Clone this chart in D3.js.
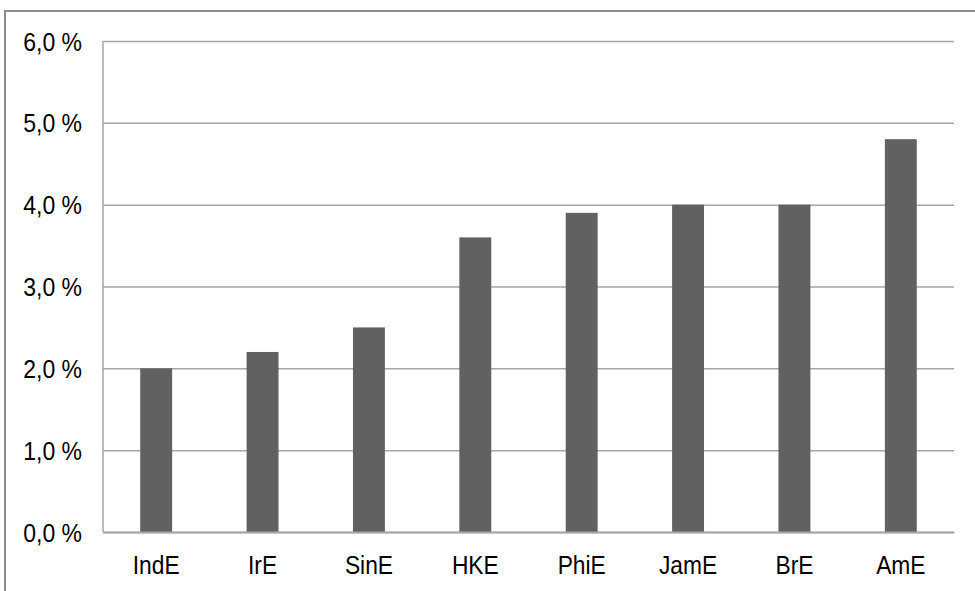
<!DOCTYPE html>
<html>
<head>
<meta charset="utf-8">
<script src="https://cdn.jsdelivr.net/npm/d3@7"></script>
<style>
  html, body { margin: 0; padding: 0; background: #fff; }
  svg { display: block; }
  .lbl { font-family: "Liberation Sans", Arial, sans-serif; fill: #000; }
</style>
</head>
<body>
<svg id="chart" width="975" height="591"></svg>
<script>
// Share of each variety of English
const varieties = ["IndE", "IrE", "SinE", "HKE", "PhiE", "JamE", "BrE", "AmE"];
const shares = [2.0, 2.2, 2.5, 3.6, 3.9, 4.0, 4.0, 4.8];
const yTicks = [0, 1, 2, 3, 4, 5, 6];

const svg = d3.select("#chart");
const W = 975, H = 591;
const plot = { left: 103, right: 954, top: 41, bottom: 532 };
const yLabelSqueeze = 0.92;   // horizontal compression of the value labels
const xLabelSqueeze = 0.86;   // horizontal compression of the category labels

// outer frame of the chart area (only top and left edges fall inside the canvas)
svg.append("path")
  .attr("d", `M5,${H} L5,11 L${W},11`)
  .attr("fill", "none")
  .attr("stroke", "#8c8c8c")
  .attr("stroke-width", 2);

const x = d3.scaleBand()
  .domain(varieties)
  .range([plot.left, plot.right])
  .paddingInner(0.7)
  .paddingOuter(0.35);

const y = d3.scaleLinear()
  .domain([0, 6])
  .range([plot.bottom, plot.top]);

// horizontal gridlines with tick labels
const yAxis = d3.axisLeft(y)
  .tickValues(yTicks)
  .tickSize(-(plot.right - plot.left))
  .tickPadding(21)
  .tickFormat(d => d3.format(".1f")(d).replace(".", ",") + " %");

const gy = svg.append("g")
  .attr("transform", `translate(${plot.left},0)`)
  .call(yAxis);
gy.select(".domain").remove();
gy.selectAll(".tick line")
  .attr("stroke", "#a6a6a6")
  .attr("stroke-width", 1.5);
gy.selectAll(".tick text")
  .attr("class", "lbl")
  .attr("font-size", 25)
  .attr("dy", "0.36em")
  .attr("x", -21 / yLabelSqueeze)
  .attr("transform", `scale(${yLabelSqueeze},1)`);

// vertical axis line
svg.append("line")
  .attr("x1", plot.left).attr("x2", plot.left)
  .attr("y1", plot.top).attr("y2", plot.bottom)
  .attr("stroke", "#a6a6a6")
  .attr("stroke-width", 1.5);

// bars
svg.append("g")
  .selectAll("rect")
  .data(varieties.map((v, i) => ({ v, s: shares[i] })))
  .join("rect")
  .attr("x", d => x(d.v))
  .attr("width", x.bandwidth())
  .attr("y", d => y(d.s))
  .attr("height", d => y(0) - y(d.s))
  .attr("fill", "#616161");

// category axis
const xAxis = d3.axisBottom(x).tickSize(0).tickPadding(23);
const gx = svg.append("g")
  .attr("transform", `translate(0,${plot.bottom})`)
  .call(xAxis);
gx.select(".domain")
  .attr("stroke", "#a6a6a6")
  .attr("stroke-width", 2);
gx.selectAll(".tick text")
  .attr("class", "lbl")
  .attr("font-size", 26.5)
  .attr("transform", `scale(${xLabelSqueeze},1)`);
</script>
</body>
</html>
